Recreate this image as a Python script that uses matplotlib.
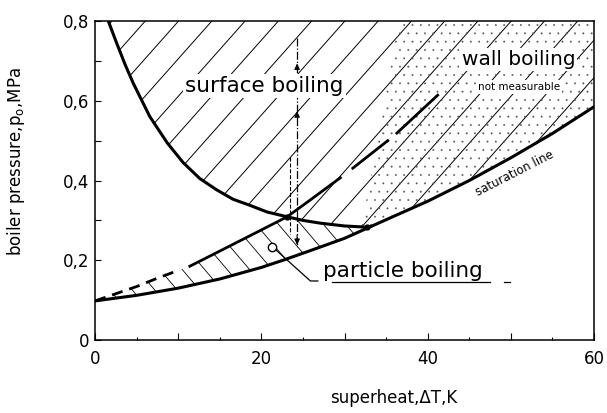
import numpy as np
import matplotlib
matplotlib.use("Agg")
import matplotlib.pyplot as plt
from matplotlib.patches import Polygon
from matplotlib.ticker import MultipleLocator

# saturation line (superheat K, pressure MPa)
sat_x = [0, 5, 10, 15, 20, 22.6, 26, 30, 33, 36, 40, 45, 50, 55, 60]
sat_p = [0.098, 0.112, 0.13, 0.153, 0.182, 0.20, 0.225, 0.255, 0.283, 0.311, 0.348, 0.40, 0.457, 0.518, 0.585]

# upper limit of particle boiling (dashed / solid line)
onset_x = [0, 2.5, 5, 7.5, 10.2, 11.4, 15, 20, 23.1, 26, 29.5, 31, 35.2, 36.3, 41.2]
onset_p = [0.098, 0.116, 0.134, 0.155, 0.176, 0.185, 0.223, 0.276, 0.309, 0.353, 0.407, 0.431, 0.50, 0.519, 0.614]

# limit of surface boiling (U shaped curve)
u_x = [1.6, 2.6, 3.6, 4.6, 6.6, 8.7, 10.6, 12.6, 14.6, 16.6, 18.6, 20.7, 23.1, 25, 27.1, 30, 32.7]
u_p = [0.8, 0.745, 0.692, 0.644, 0.56, 0.494, 0.445, 0.405, 0.377, 0.353, 0.338, 0.321, 0.309, 0.300, 0.293, 0.286, 0.283]

# left edge of the dotted "wall boiling" zone
wall_x = [32.0, 34.0, 36.5]
wall_p = [0.285, 0.5, 0.8]

probe_x = 24.3  # vertical measuring path

xticks = [0, 10, 20, 30, 40, 50, 60]
xlabels = ['0', '', '20', '', '40', '', '60']
yticks = [0, 0.1, 0.2, 0.3, 0.4, 0.5, 0.6, 0.7, 0.8]
ylabels = ['0', '', '0,2', '', '0,4', '', '0,6', '', '0,8']

plt.rcParams['hatch.linewidth'] = 0.15

fig = plt.figure(figsize=(6.07, 4.13), dpi=100)
ax = fig.add_axes([0.1565, 0.1768, 0.8221, 0.7722])


def hatch(ax, verts, slope, step, lw=0.7):
    patch = Polygon(verts, closed=True, facecolor='none', edgecolor='none')
    ax.add_patch(patch)
    for x0 in np.arange(-120, 180, step):
        xs = np.array([-150.0, 200.0])
        ln, = ax.plot(xs, slope * (xs - x0), color='k', lw=lw, zorder=1)
        ln.set_clip_path(patch)


# surface boiling zone: above U curve and above saturation line
surf = list(zip(u_x, u_p)) + [(x, p) for x, p in zip(sat_x, sat_p) if x > 32.7] + [(60, 0.8)]
hatch(ax, surf, 0.0235, 4.0)

# particle boiling zone: between onset line and saturation line, left of U curve
i_cross = onset_x.index(23.1)
part = list(zip(onset_x[:i_cross + 1], onset_p[:i_cross + 1]))
part += [(x, p) for x, p in zip(u_x, u_p) if x > 23.1]
part += [(x, p) for x, p in zip(sat_x[::-1], sat_p[::-1]) if x <= 33]
hatch(ax, part, -0.0245, 2.7, lw=0.6)

# dotted wall boiling zone
wall = list(zip(wall_x, wall_p)) + [(60, 0.8)] + [(x, p) for x, p in zip(sat_x[::-1], sat_p[::-1]) if x >= 33]
ax.add_patch(Polygon(wall, closed=True, facecolor='none', edgecolor='#555555', lw=0, hatch='..', zorder=1))

# main curves
ax.plot(sat_x, sat_p, color='k', lw=2.2, zorder=3)
ax.plot(u_x, u_p, color='k', lw=2.2, zorder=3)
ax.plot(onset_x[:5], onset_p[:5], color='k', lw=2.0, ls=(0, (4, 2.5)), zorder=3)
ax.plot(onset_x[5:11], onset_p[5:11], color='k', lw=2.0, zorder=3)
ax.plot(onset_x[11:13], onset_p[11:13], color='k', lw=2.0, zorder=3)
ax.plot(onset_x[13:], onset_p[13:], color='k', lw=2.0, zorder=3)
ax.plot([23.1, 32.7], [0.309, 0.283], 'o', color='k', ms=3.5, zorder=4)

# measuring path
ax.plot([probe_x, probe_x], [0.757, 0.232], color='k', lw=0.9, ls='-.', zorder=4)
ax.plot([probe_x - 0.8, probe_x - 0.8], [0.46, 0.265], color='k', lw=0.8, ls='--', zorder=4)
for y0, y1 in [(0.68, 0.70), (0.56, 0.58), (0.27, 0.232)]:
    ax.annotate('', xy=(probe_x, y1), xytext=(probe_x, y0),
                arrowprops=dict(arrowstyle='-|>', color='k', lw=0.8, mutation_scale=8), zorder=4)

# labels
box = dict(facecolor='white', edgecolor='none', pad=1.5)
ax.text(20.4, 0.622, 'surface boiling', fontsize=15.5, ha='center', va='baseline', bbox=box, zorder=5)
ax.text(50.9, 0.69, 'wall boiling', fontsize=14.5, ha='center', va='baseline', bbox=box, zorder=5)
ax.text(51.0, 0.627, 'not measurable', fontsize=7.5, ha='center', va='baseline', bbox=box, zorder=5)
ax.text(50.5, 0.419, 'saturation line', fontsize=8.5, ha='center', va='center', rotation=27, zorder=5)

# particle boiling label with leader
ax.plot([21.3], [0.233], 'o', mfc='white', mec='k', ms=6, mew=1.0, zorder=5)
ax.plot([21.8, 25.9, 26.8], [0.225, 0.148, 0.148], color='k', lw=0.9, zorder=5)
ax.text(27.4, 0.158, 'particle boiling', fontsize=15.5, ha='left', va='baseline', zorder=5)
ax.plot([28.5, 47.5], [0.145, 0.145], color='k', lw=0.9, zorder=5)
ax.plot([49.2, 49.9], [0.145, 0.145], color='k', lw=0.9, zorder=5)

ax.set_xlim(0, 60)
ax.set_ylim(0, 0.8)
ax.set_xticks(xticks)
ax.set_xticklabels(xlabels)
ax.set_yticks(yticks)
ax.set_yticklabels(ylabels)
ax.xaxis.set_minor_locator(MultipleLocator(5))
ax.tick_params(axis='both', which='both', direction='in', labelsize=12, width=0.8)
ax.tick_params(axis='x', which='major', length=5, pad=7)
ax.tick_params(axis='x', which='minor', length=2.5)
ax.tick_params(axis='y', which='major', length=4, pad=4)
for s in ax.spines.values():
    s.set_linewidth(1.1)

ax.set_ylabel('boiler pressure,p$_\\mathrm{o}$,MPa', fontsize=12)
ax.yaxis.set_label_coords(-0.136, 0.558)
ax.set_xlabel('superheat,\u0394T,K', fontsize=12)
ax.xaxis.set_label_coords(0.598, -0.182)
ax.xaxis.label.set_va('center')

fig.savefig('out.png', dpi=100)
